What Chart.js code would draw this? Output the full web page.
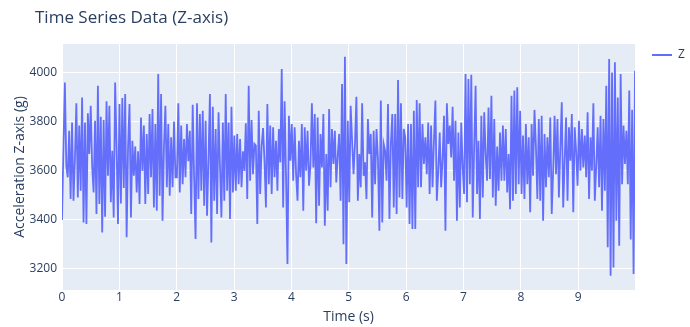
<!DOCTYPE html>
<html>
<head>
<meta charset="utf-8">
<title>Time Series Data (Z-axis)</title>
<script src="https://cdn.jsdelivr.net/npm/chart.js@4.4.1/dist/chart.umd.min.js"></script>
<style>
  html, body { margin: 0; padding: 0; background: #fff; }
  #wrap { width: 690px; height: 327px; }
</style>
</head>
<body>
<div id="wrap"><canvas id="chart" width="690" height="327"></canvas></div>
<script>
// Z-axis acceleration readings, split in 2 s stretches
const zSec0to2 = [
  3400,3690,3961,3620,3574,3764,3485,3798,3478,3650,
  3876,3492,3785,3519,3900,3390,3798,3383,3835,3669,
  3866,3620,3512,3805,3424,3948,3465,3821,3349,3808,
  3413,3884,3580,3866,3472,3682,3410,3961,3700,3383,
  3873,3467,3898,3530,3914,3329,3700,3873,3410,3723,
  3580,3700,3512,3680,3465,3818,3600,3785,3465,3751,
  3506,3832,3574,3853,3451,3791,3438,3996,3499,3914,
  3397,3700,3866,3533,3791,3499,3737,3533,3802,3574
];
const zSec2to4 = [
  3574,3876,3512,3785,3546,3730,3574,3791,3640,3764,
  3424,3870,3574,3322,3876,3485,3832,3519,3846,3458,
  3805,3417,3650,3914,3308,3862,3478,3771,3424,3839,
  3620,3410,3798,3478,3914,3519,3798,3404,3862,3512,
  3744,3519,3751,3546,3730,3533,3680,3600,3794,3485,
  3948,3560,3808,3587,3710,3703,3383,3846,3506,3700,
  3775,3640,3451,3873,3546,3785,3506,3778,3574,3723,
  3519,3771,3635,4016,3451,3884,3580,3220,3825,3642
];
const zSec4to6 = [
  3791,3560,3778,3587,3478,3723,3574,3791,3438,3778,
  3601,3764,3540,3620,3876,3614,3832,3386,3818,3458,
  3751,3614,3832,3376,3669,3438,3853,3533,3771,3628,
  3764,3553,3662,3751,3478,3955,3301,4066,3220,3805,
  3472,3866,3723,3587,3710,3903,3478,3669,3533,3876,
  3580,3635,3485,3812,3669,3751,3410,3764,3546,3771,
  3650,3356,3887,3390,3710,3682,3560,3873,3404,3710,
  3832,3451,3832,3424,3971,3492,3876,3485,3771,3737
];
const zSec6to8 = [
  3451,3791,3383,3791,3363,3846,3363,3889,3533,3876,
  3533,3791,3628,3737,3587,3798,3506,3785,3533,3723,
  3887,3478,3600,3757,3533,3649,3825,3356,3876,3710,
  3785,3655,3862,3560,3805,3397,3757,3451,3798,3614,
  3506,3996,3472,3975,3546,3992,3410,3696,3948,3506,
  3723,3404,3825,3492,3839,3669,3560,3859,3567,3907,
  3492,3812,3458,3700,3519,3757,3560,3785,3560,3771,
  3512,3669,3444,3907,3478,3928,3506,3941,3546,3846
];
const zSec8to10 = [
  3506,3744,3485,3791,3546,3737,3431,3791,3580,3849,
  3700,3485,3812,3478,3825,3397,3751,3533,3737,3574,
  3818,3424,3600,3825,3587,3812,3492,3696,3880,3451,
  3640,3818,3478,3778,3642,3832,3431,3778,3680,3540,
  3805,3601,3771,3614,3744,3574,3839,3485,3737,3601,
  3876,3478,3620,3778,3533,3825,3438,3812,3519,3948,
  3288,4057,3172,4002,3206,4043,3397,3900,3295,3996,
  3546,3785,3628,3764,3546,3928,3320,3850,3179,4009
];

const sampleStep = 0.025038;          // s between readings
const xTicks = [0, 1, 2, 3, 4, 5, 6, 7, 8, 9];
const yTicks = [3200, 3400, 3600, 3800, 4000];
const xRange = [0, 9.99];
const yRange = [3114, 4118];

const zValues = [].concat(zSec0to2, zSec2to4, zSec4to6, zSec6to8, zSec8to10);
const zPoints = zValues.map((v, i) => ({ x: i * sampleStep, y: v }));

const INK = '#2a3f5f';
const FONT = '"Open Sans", verdana, arial, sans-serif';

// plot background, title and legend drawn plotly-style
const plotlyDecor = {
  id: 'plotlyDecor',
  beforeDraw(chart) {
    const { ctx, chartArea: a } = chart;
    ctx.save();
    ctx.fillStyle = '#E5ECF6';
    ctx.fillRect(a.left, a.top, a.right - a.left, a.bottom - a.top);
    ctx.restore();
  },
  afterDraw(chart) {
    const { ctx } = chart;
    ctx.save();
    ctx.fillStyle = INK;
    ctx.font = '17px ' + FONT;
    ctx.textBaseline = 'middle';
    ctx.fillText('Time Series Data (Z-axis)', 35, 18);

    const ds = chart.data.datasets[0];
    ctx.strokeStyle = ds.borderColor;
    ctx.lineWidth = 2;
    ctx.beginPath();
    ctx.moveTo(652, 55);
    ctx.lineTo(672, 55);
    ctx.stroke();
    ctx.font = '12px ' + FONT;
    ctx.fillText(ds.label, 678, 55);
    ctx.restore();
  }
};

new Chart(document.getElementById('chart'), {
  type: 'line',
  data: {
    datasets: [{
      label: 'Z',
      data: zPoints,
      borderColor: '#636efa',
      borderWidth: 1.8,
      pointRadius: 0,
      tension: 0,
      fill: false
    }]
  },
  options: {
    responsive: false,
    animation: false,
    devicePixelRatio: 1,
    layout: { padding: { top: 44, right: 55, left: 0, bottom: 0 } },
    plugins: {
      legend: { display: false },
      title: { display: false },
      tooltip: { enabled: false }
    },
    scales: {
      x: {
        type: 'linear',
        min: xRange[0],
        max: xRange[1],
        afterBuildTicks: s => { s.ticks = xTicks.map(v => ({ value: v })); },
        afterFit: s => { s.height = 37; },
        grid: { color: '#ffffff', lineWidth: 1, drawTicks: false },
        border: { display: false },
        ticks: {
          color: INK, font: { family: FONT, size: 12 }, padding: 0,
          maxRotation: 0, autoSkip: false, includeBounds: false
        },
        title: {
          display: true, text: 'Time (s)', color: INK,
          font: { family: FONT, size: 14 }, padding: { top: 0, bottom: 2 }
        }
      },
      y: {
        min: yRange[0],
        max: yRange[1],
        afterBuildTicks: s => { s.ticks = yTicks.map(v => ({ value: v })); },
        afterFit: s => { s.width = 62; },
        grid: { color: '#ffffff', lineWidth: 1, drawTicks: false },
        border: { display: false },
        ticks: {
          color: INK, font: { family: FONT, size: 12 }, padding: 5,
          includeBounds: false, callback: v => String(v)
        },
        title: {
          display: true, text: 'Acceleration Z-axis (g)', color: INK,
          font: { family: FONT, size: 14 }, padding: { top: 12, bottom: 0 }
        }
      }
    }
  },
  plugins: [plotlyDecor]
});
</script>
</body>
</html>
